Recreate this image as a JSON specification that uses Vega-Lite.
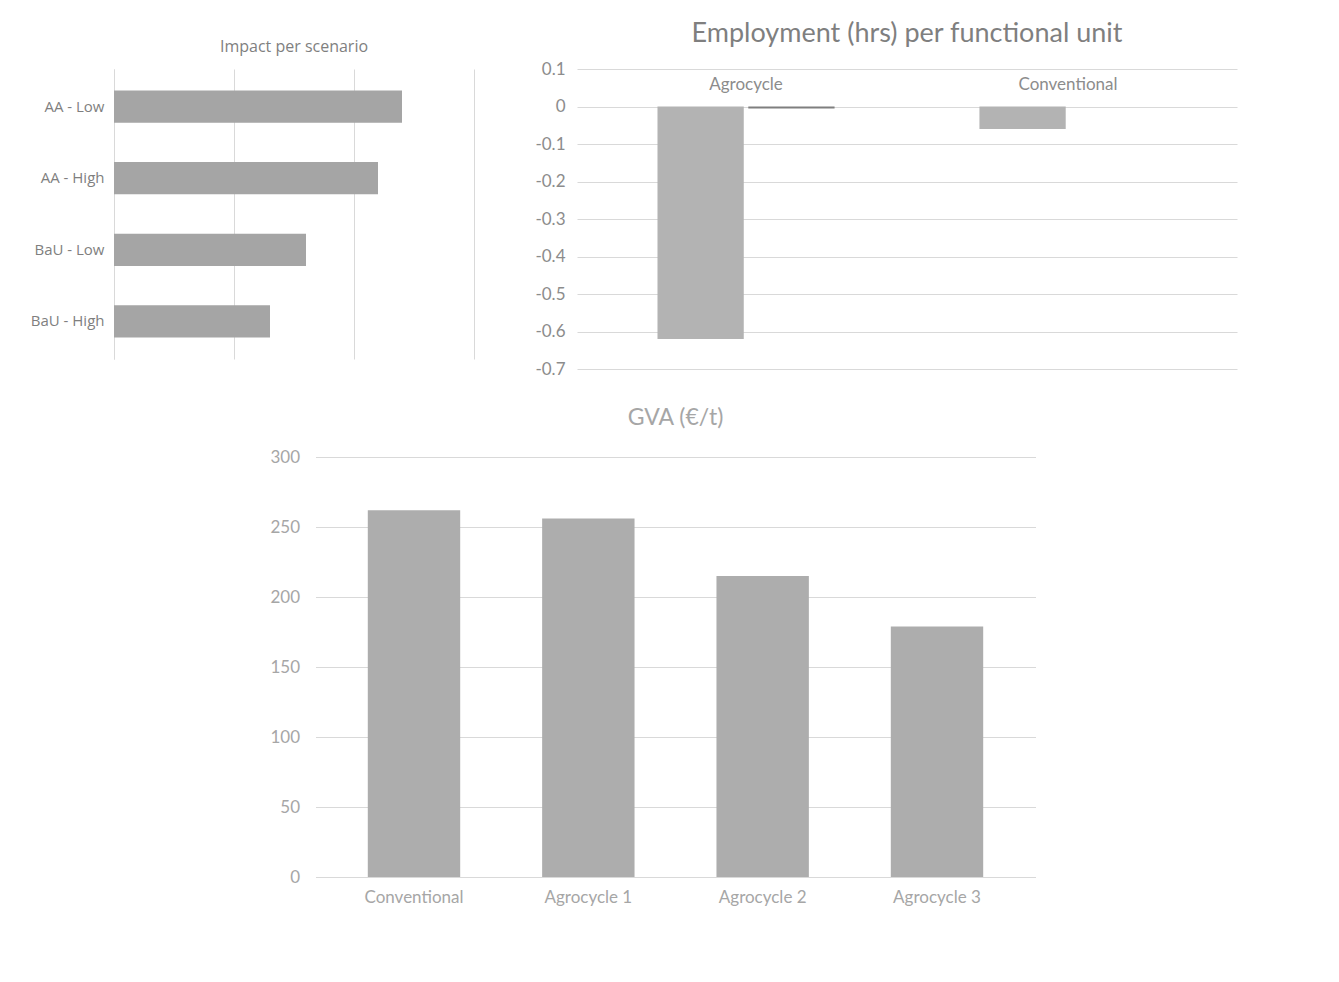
{
  "$schema": "https://vega.github.io/schema/vega-lite/v6.json",
  "background": "white",
  "padding": {"left": 30, "top": 20, "right": 20, "bottom": 10},
  "config": {
    "font": "Lato",
    "view": {"stroke": null},
    "axis": {"labelColor": "#8c8c8c", "gridColor": "#d9d9d9", "domain": false, "ticks": false, "labelFont": "Lato", "titleFont": "Lato"},
    "title": {"color": "#8c8c8c", "font": "Lato", "fontWeight": "normal", "anchor": "middle"}
  },
  "datasets": {
    "impact": [
      {"scenario": "AA - Low", "impact": 2.4},
      {"scenario": "AA - High", "impact": 2.2},
      {"scenario": "BaU - Low", "impact": 1.6},
      {"scenario": "BaU - High", "impact": 1.3}
    ],
    "employment": [
      {"system": "Agrocycle", "series": "Series 1", "hours": -0.62},
      {"system": "Agrocycle", "series": "Series 2", "hours": -0.005},
      {"system": "Conventional", "series": "Series 1", "hours": -0.06},
      {"system": "Conventional", "series": "Series 2", "hours": 0}
    ],
    "gva": [
      {"system": "Conventional", "gva": 262},
      {"system": "Agrocycle 1", "gva": 256},
      {"system": "Agrocycle 2", "gva": 215},
      {"system": "Agrocycle 3", "gva": 179}
    ]
  },
  "center": true,
  "spacing": 30,
  "vconcat": [
    {
      "spacing": 60,
      "hconcat": [
        {
          "title": {"text": "Impact per scenario", "font": "Open Sans", "fontSize": 16, "color": "#7f7f7f", "offset": 14},
          "width": 360,
          "height": 290,
          "data": {"name": "impact"},
          "mark": {"type": "bar", "color": "#a5a5a5"},
          "encoding": {
            "y": {
              "field": "scenario", "type": "nominal", "sort": null,
              "scale": {"paddingInner": 0.55, "paddingOuter": 0.3},
              "axis": {"title": null, "labelFont": "Open Sans", "labelFontSize": 15, "labelColor": "#7f7f7f", "labelPadding": 10, "domain": true, "domainColor": "#d9d9d9"}
            },
            "x": {
              "field": "impact", "type": "quantitative",
              "scale": {"domain": [0, 3]},
              "axis": {"title": null, "labels": false, "values": [0, 1, 2, 3], "grid": true}
            }
          }
        },
        {
          "title": {"text": "Employment (hrs) per functional unit", "fontSize": 27, "color": "#7f7f7f", "offset": 12},
          "width": 660,
          "height": 300,
          "data": {"name": "employment"},
          "mark": {"type": "bar"},
          "encoding": {
            "x": {
              "field": "system", "type": "nominal", "sort": null,
              "scale": {"paddingInner": 0.45, "paddingOuter": 0.25},
              "axis": {"orient": "top", "title": null, "labelAngle": 0, "offset": -26, "labelFontSize": 17, "labelColor": "#8c8c8c"}
            },
            "xOffset": {"field": "series", "type": "nominal", "sort": null, "scale": {"paddingInner": 0.05}},
            "y": {
              "field": "hours", "type": "quantitative",
              "scale": {"domain": [-0.7, 0.1]},
              "axis": {"title": null, "values": [0.1, 0, -0.1, -0.2, -0.3, -0.4, -0.5, -0.6, -0.7], "format": "~g", "labelExpr": "replace(datum.label, '\u2212', '-')", "grid": true, "labelFontSize": 17, "labelColor": "#8c8c8c", "labelPadding": 12}
            },
            "color": {"field": "series", "type": "nominal", "scale": {"range": ["#b3b3b3", "#7f7f7f"]}, "legend": null}
          }
        }
      ]
    },
    {
      "title": {"text": "GVA (€/t)", "fontSize": 23, "color": "#a6a6a6", "offset": 18},
      "width": 720,
      "height": 420,
      "data": {"name": "gva"},
      "mark": {"type": "bar", "color": "#adadad"},
      "encoding": {
        "x": {
          "field": "system", "type": "nominal", "sort": null,
          "scale": {"paddingInner": 0.47, "paddingOuter": 0.3},
          "axis": {"title": null, "labelAngle": 0, "labelFontSize": 17, "labelColor": "#a6a6a6", "labelPadding": 12}
        },
        "y": {
          "field": "gva", "type": "quantitative",
          "scale": {"domain": [0, 300]},
          "axis": {"title": null, "values": [0, 50, 100, 150, 200, 250, 300], "grid": true, "labelFontSize": 17, "labelColor": "#a6a6a6", "labelPadding": 16}
        }
      }
    }
  ]
}
